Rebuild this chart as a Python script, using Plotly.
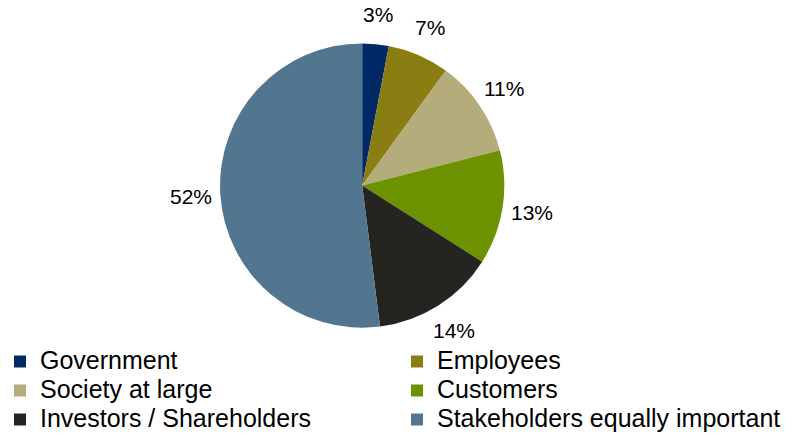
import math
import plotly.graph_objects as go

categories = ["Government", "Employees", "Society at large", "Customers",
              "Investors / Shareholders", "Stakeholders equally important"]
shares = [3, 7, 11, 13, 14, 52]
colors = ["#012966", "#8A7D11", "#B4AD7B", "#6D9200", "#262421", "#52768F"]

W, H = 796, 434
DOM_X = [0.12, 0.79]
DOM_Y = [0.245, 0.9]
LABEL_RADIUS = 1.21  # label centre distance, as a multiple of the pie radius

# legend entries use a larger glyph size than the row pitch implied by the legend font
legend_labels = [f"<span style='font-size:25px'>{c}</span>" for c in categories]

fig = go.Figure(go.Pie(
    labels=legend_labels,
    values=shares,
    sort=False,
    direction="clockwise",
    rotation=0,
    marker=dict(colors=colors, line=dict(width=0)),
    textinfo="none",
    domain=dict(x=DOM_X, y=DOM_Y),
    hovertemplate="%{customdata}: %{value}%<extra></extra>",
    customdata=categories,
))

# percentage labels placed around the pie at each slice's mid-angle
cx = (DOM_X[0] + DOM_X[1]) / 2
cy = (DOM_Y[0] + DOM_Y[1]) / 2
r_px = min(W * (DOM_X[1] - DOM_X[0]), H * (DOM_Y[1] - DOM_Y[0])) / 2
total = sum(shares)
cum = 0
for v in shares:
    theta = 2 * math.pi * (cum + v / 2) / total  # clockwise from 12 o'clock
    cum += v
    fig.add_annotation(
        x=cx + LABEL_RADIUS * r_px * math.sin(theta) / W,
        y=cy + LABEL_RADIUS * r_px * math.cos(theta) / H,
        xref="paper", yref="paper",
        text=f"{v}%",
        showarrow=False,
        xanchor="center", yanchor="middle",
        font=dict(family="Liberation Sans, Arial, sans-serif", size=21, color="#000000"),
    )

fig.update_layout(
    width=W, height=H,
    margin=dict(l=0, r=0, t=0, b=0, autoexpand=False),
    paper_bgcolor="white",
    plot_bgcolor="white",
    font=dict(family="Liberation Sans, Arial, sans-serif", color="#000000"),
    showlegend=True,
    legend=dict(
        orientation="h",
        x=0.0, y=-0.0115, xanchor="left", yanchor="bottom",
        entrywidth=352, entrywidthmode="pixels",
        font=dict(size=20, color="#000000"),
        traceorder="normal",
    ),
)

fig.write_html("out.html")
